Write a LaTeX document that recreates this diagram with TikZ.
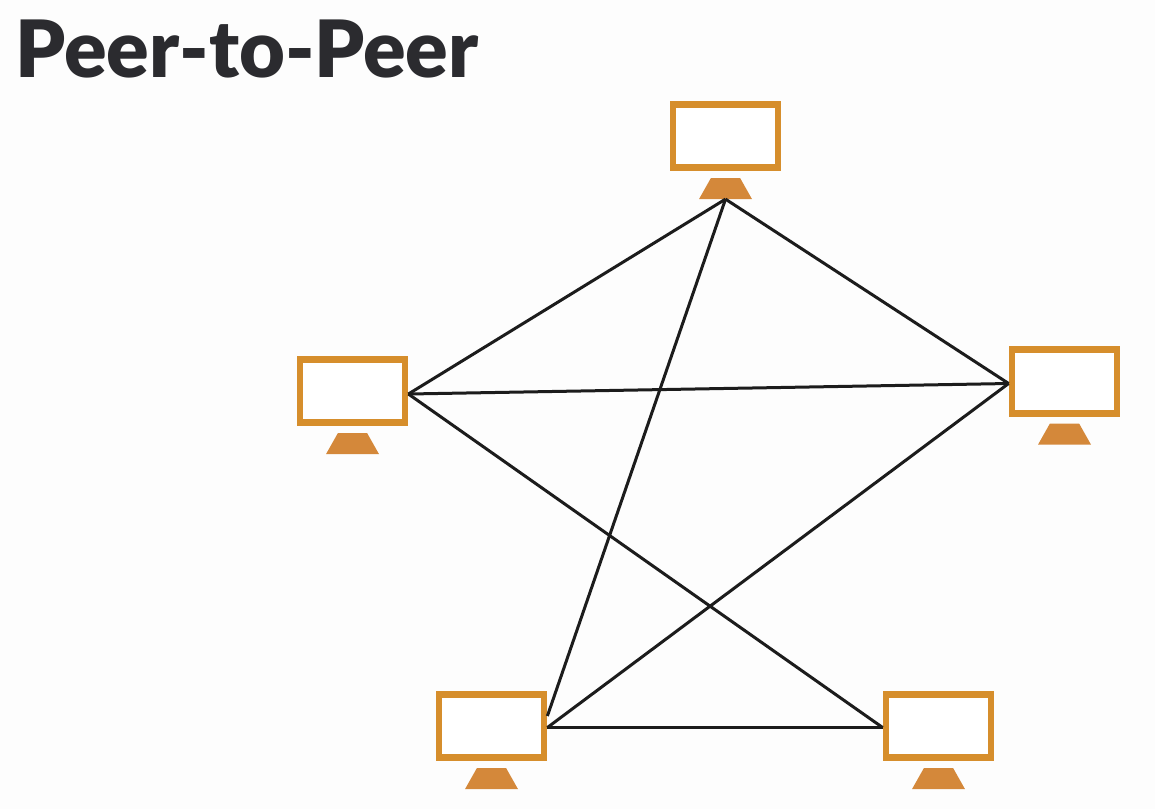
\documentclass[tikz,border=0pt]{standalone}
\usepackage{fontspec}
\setmainfont{Lato}[BoldFont={Lato Black}]
\usetikzlibrary{positioning, shapes.geometric}

\definecolor{monitorcol}{HTML}{D68E2C}
\definecolor{standcol}{HTML}{D4883A}
\definecolor{titlecol}{HTML}{2B2B2F}
\definecolor{linkcol}{HTML}{1C1C1C}
\definecolor{pagecol}{HTML}{FDFDFD}

\begin{document}
\begin{tikzpicture}[
    node distance=0.14cm,
    screen/.style={
        draw=monitorcol,
        fill=white,
        line width=0.135cm,
        minimum width=2.1cm,
        minimum height=1.27cm
    },
    stand/.style={
        trapezium,
        trapezium angle=68,
        trapezium stretches=true,
        fill=standcol,
        inner sep=1pt,
        outer sep=0pt,
        minimum width=1.06cm,
        minimum height=0.42cm
    },
    link/.style={
        draw=linkcol,
        line width=0.06cm
    }
]

\fill[pagecol] (0,0) rectangle (23.1,-16.18);
\useasboundingbox (0,0) rectangle (23.1,-16.18);

\node[anchor=base west, inner sep=0pt, text=titlecol, font=\fontsize{45}{45}\selectfont\bfseries] (title)
    at (0.3,-1.54) {Peer-to-Peer};

\node[screen] (top) at (14.51,-2.72) {};
\node[stand, below=of top] (topstand) {};

\node[screen] (left) at (7.05,-7.82) {};
\node[stand, below=of left] (leftstand) {};

\node[screen] (right) at (21.29,-7.63) {};
\node[stand, below=of right] (rightstand) {};

\node[screen] (botleft) at (9.83,-14.52) {};
\node[stand, below=of botleft] (botleftstand) {};

\node[screen] (botright) at (18.77,-14.52) {};
\node[stand, below=of botright] (botrightstand) {};

\coordinate (leftport) at ([yshift=-0.06cm]left.east);
\coordinate (rightport) at ([yshift=-0.04cm]right.west);
\coordinate (botleftport) at ([yshift=-0.03cm]botleft.east);
\coordinate (botleftupper) at ([yshift=0.2cm]botleft.east);
\coordinate (botrightport) at ([yshift=-0.03cm]botright.west);

\draw[link] (topstand.south) -- (leftport);
\draw[link] (topstand.south) -- (rightport);
\draw[link] (topstand.south) -- (botleftupper);
\draw[link] (leftport) -- (rightport);
\draw[link] (leftport) -- (botrightport);
\draw[link] (rightport) -- (botleftport);
\draw[link] (botleftport) -- (botrightport);

\end{tikzpicture}
\end{document}
